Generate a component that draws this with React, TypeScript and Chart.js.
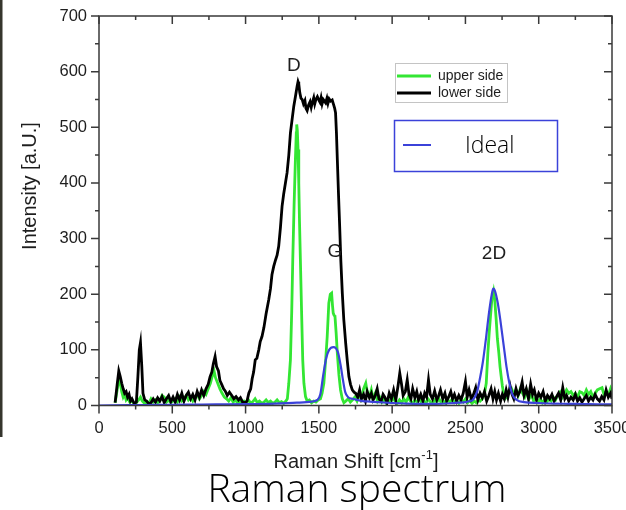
import React, { useEffect, useRef } from 'react';
import { Chart, registerables } from 'chart.js';

Chart.register(...registerables);

// ---- axis ranges / ticks ----
const xMin = 0;
const xMax = 3500;
const xStep = 500;
const xMinorStep = 250;
const yMin = 0;
const yMax = 700;
const yStep = 100;
const yMinorStep = 50;

// ---- series: lower side (black) ----
const lowerShift = [
  110, 125, 135, 145, 155, 165, 175, 185, 195, 205, 215, 225, 240, 255, 265, 275, 283, 292, 300, 312,
  325, 340, 355, 370, 385, 400, 415, 430, 445, 460, 475, 490, 505, 520, 535, 550, 565, 580, 595, 610,
  625, 640, 655, 670, 685, 700, 715, 730, 745, 758, 770, 780, 792, 802, 815, 825, 837, 850, 861, 875,
  890, 906, 920, 935, 952, 965, 980, 998, 1010, 1022, 1035, 1045, 1055, 1066, 1077, 1090, 1100, 1112, 1125, 1140,
  1158, 1170, 1180, 1192, 1205, 1215, 1226, 1238, 1249, 1260, 1272, 1283, 1295, 1306, 1318, 1329, 1340, 1352, 1358, 1363,
  1370, 1378, 1386, 1395, 1405, 1412, 1420, 1430, 1440, 1448, 1455, 1465, 1472, 1480, 1490, 1500, 1508, 1515, 1522, 1530,
  1538, 1546, 1555, 1562, 1570, 1580, 1591, 1600, 1608, 1614, 1620, 1626, 1634, 1642, 1650, 1660, 1670, 1683, 1694, 1705,
  1716, 1728, 1740, 1751, 1765, 1778, 1790, 1805, 1818, 1830, 1845, 1858, 1870, 1885, 1898, 1910, 1925, 1938, 1950, 1965,
  1980, 1995, 2010, 2025, 2040, 2052, 2063, 2075, 2090, 2103, 2115, 2128, 2140, 2155, 2168, 2180, 2195, 2210, 2222, 2235,
  2248, 2260, 2275, 2290, 2305, 2318, 2330, 2345, 2360, 2372, 2385, 2400, 2412, 2425, 2440, 2455, 2470, 2485, 2500, 2512,
  2525, 2540, 2555, 2570, 2585, 2600, 2615, 2630, 2645, 2660, 2675, 2688, 2700, 2712, 2725, 2740, 2752, 2765, 2778, 2790,
  2805, 2818, 2830, 2845, 2858, 2872, 2887, 2900, 2915, 2930, 2945, 2958, 2970, 2985, 3000, 3015, 3030, 3045, 3060, 3075,
  3090, 3105, 3120, 3135, 3150, 3164, 3178, 3190, 3205, 3220, 3235, 3250, 3265, 3280, 3295, 3310, 3325, 3340, 3355, 3370,
  3385, 3400, 3415, 3430, 3445, 3460, 3475, 3490, 3500,
];
const lowerIntensity = [
  5, 40, 62, 52, 40, 30, 22, 25, 15, 20, 8, 12, 4, 6, 50, 100, 113, 70, 22, 10,
  8, 3, 5, 12, 6, 14, 8, 16, 5, 12, 18, 7, 15, 6, 20, 10, 22, 8, 18, 24,
  12, 20, 10, 25, 15, 28, 18, 30, 38, 52, 60, 75, 88, 70, 62, 45, 38, 30, 26, 18,
  24, 18, 12, 16, 10, 14, 6, 5, 8, 22, 30, 48, 60, 82, 85, 100, 115, 124, 140, 165,
  190, 210, 235, 250, 262, 270, 286, 320, 358, 380, 400, 418, 450, 490, 515, 538, 555, 574, 582, 578,
  562, 552, 550, 542, 548, 534, 530, 540, 546, 536, 544, 553, 542, 550, 555, 549, 545, 553, 542, 550,
  547, 544, 552, 543, 551, 547, 549, 541, 534, 526, 490, 442, 380, 322, 260, 202, 155, 112, 80, 52,
  38, 28, 24, 22, 15, 28, 12, 20, 8, 25, 14, 22, 10, 18, 30, 12, 8, 20, 15, 5,
  22, 12, 28, 10, 35, 58, 40, 18, 25, 46, 20, 12, 30, 14, 25, 10, 20, 8, 22, 15,
  46, 20, 12, 26, 10, 18, 28, 12, 22, 8, 15, 25, 12, 20, 8, 18, 10, 22, 43, 15,
  28, 12, 20, 32, 10, 22, 14, 25, 8, 18, 30, 12, 25, 10, 22, 8, 20, 12, 28, 15,
  35, 20, 12, 30, 18, 25, 42, 18, 30, 12, 38, 20, 28, 10, 22, 15, 25, 8, 18, 12,
  20, 8, 15, 22, 10, 32, 12, 18, 8, 15, 10, 20, 8, 14, 6, 12, 18, 8, 15, 10,
  20, 12, 8, 16, 10, 28, 15, 22, 12,
];

// ---- series: upper side (green) ----
const upperShift = [
  110, 125, 135, 145, 155, 165, 175, 185, 195, 210, 225, 240, 255, 270, 283, 295, 310, 325, 340, 355,
  370, 385, 400, 415, 430, 445, 460, 475, 490, 505, 520, 535, 550, 565, 580, 595, 610, 625, 640, 655,
  670, 685, 700, 715, 730, 745, 760, 775, 785, 795, 810, 825, 840, 855, 870, 885, 900, 915, 930, 945,
  960, 975, 990, 1005, 1020, 1035, 1050, 1065, 1080, 1095, 1110, 1125, 1140, 1155, 1170, 1185, 1200, 1215, 1230, 1245,
  1260, 1275, 1285, 1295, 1306, 1315, 1322, 1331, 1340, 1346, 1349, 1353, 1358, 1363, 1368, 1374, 1382, 1390, 1398, 1409,
  1420, 1435, 1450, 1465, 1480, 1495, 1511, 1522, 1534, 1546, 1557, 1568, 1578, 1587, 1593, 1598, 1604, 1610, 1618, 1626,
  1637, 1648, 1660, 1671, 1685, 1700, 1715, 1730, 1745, 1760, 1775, 1790, 1805, 1820, 1832, 1845, 1858, 1870, 1885, 1900,
  1915, 1930, 1945, 1960, 1975, 1990, 2005, 2020, 2035, 2050, 2065, 2080, 2095, 2110, 2125, 2140, 2155, 2170, 2185, 2200,
  2215, 2230, 2245, 2260, 2275, 2290, 2305, 2320, 2335, 2350, 2365, 2380, 2395, 2410, 2425, 2440, 2455, 2470, 2485, 2500,
  2515, 2530, 2545, 2560, 2575, 2590, 2600, 2615, 2630, 2642, 2653, 2662, 2669, 2680, 2692, 2700, 2710, 2718, 2728, 2736,
  2744, 2752, 2760, 2770, 2780, 2800, 2815, 2830, 2845, 2860, 2875, 2890, 2905, 2920, 2935, 2950, 2965, 2980, 2995, 3010,
  3025, 3040, 3055, 3070, 3085, 3100, 3115, 3130, 3145, 3160, 3175, 3190, 3205, 3220, 3235, 3250, 3265, 3280, 3295, 3310,
  3325, 3340, 3355, 3370, 3385, 3400, 3415, 3432, 3445, 3460, 3475, 3490, 3500,
];
const upperIntensity = [
  5, 30, 48, 40, 25, 15, 20, 10, 14, 6, 8, 3, 5, 10, 15, 8, 4, 6, 4, 12,
  6, 10, 5, 8, 18, 15, 6, 10, 5, 8, 12, 6, 15, 8, 12, 18, 10, 15, 8, 14,
  20, 12, 18, 25, 20, 30, 40, 55, 62, 50, 40, 30, 22, 15, 12, 8, 14, 6, 10, 5,
  8, 4, 8, 5, 10, 4, 7, 12, 5, 8, 4, 6, 10, 5, 8, 4, 6, 10, 5, 7,
  4, 8, 12, 40, 82, 170, 262, 360, 442, 490, 505, 495, 460, 400, 330, 262, 170, 82, 40, 16,
  8, 10, 5, 8, 6, 10, 12, 22, 40, 80, 124, 184, 200, 202, 180, 166, 162, 160, 130, 94,
  55, 28, 12, 5, 8, 12, 6, 10, 15, 8, 20, 12, 30, 40, 22, 15, 28, 12, 22, 8,
  15, 6, 12, 4, 10, 6, 14, 8, 4, 10, 5, 12, 6, 15, 8, 4, 10, 6, 12, 5,
  9, 4, 12, 7, 3, 10, 6, 12, 5, 8, 4, 10, 6, 12, 5, 8, 4, 10, 6, 12,
  5, 9, 4, 8, 5, 10, 8, 12, 22, 40, 94, 130, 154, 190, 205, 190, 154, 120, 94, 70,
  52, 35, 22, 12, 15, 25, 30, 20, 28, 18, 30, 22, 15, 25, 12, 20, 8, 14, 6, 12,
  5, 10, 6, 12, 8, 15, 10, 18, 24, 14, 20, 28, 22, 25, 18, 22, 15, 25, 23, 18,
  28, 20, 25, 15, 22, 28, 30, 32, 20, 25, 18, 30, 22,
];

// ---- series: ideal (blue) ----
const idealShift = [
  0, 200, 400, 600, 800, 1000, 1200, 1350, 1450, 1490, 1510, 1530, 1550, 1570, 1600, 1630, 1650, 1665, 1680, 1700,
  1730, 1760, 1800, 1850, 1900, 2000, 2100, 2200, 2300, 2400, 2450, 2500, 2530, 2550, 2580, 2600, 2620, 2640, 2660, 2680,
  2690, 2700, 2720, 2740, 2760, 2780, 2800, 2820, 2850, 2900, 3000, 3100, 3200, 3300, 3400, 3500,
];
const idealIntensity = [
  0, 0.5, 1, 1.5, 2, 2.5, 3.5, 5, 7, 10, 20, 55, 85, 100, 105, 96, 70, 45, 24, 15,
  12, 10, 8, 7, 6, 4.5, 3.5, 3, 3, 4, 5, 6, 8, 10, 25, 50, 80, 120, 165, 200,
  210, 207, 185, 150, 110, 70, 40, 20, 10, 6, 4.5, 3.5, 3, 2.5, 2, 2,
];

// ---- peak annotations (data coordinates) ----
const peakNames = ['D', 'G', '2D'];
const peakShift = [1330, 1610, 2695];
const peakLevel = [611, 276, 272];

const legendUpper = 'upper side';
const legendLower = 'lower side';
const legendIdeal = 'Ideal';

const GREEN = '#33e633';
const BLACK = '#000000';
const BLUE = '#3b42d9';
const AXIS = '#3a3a3a';
const TEXT = '#1e1e1e';

const toPoints = (xs: number[], ys: number[]) => xs.map((x, i) => ({ x, y: ys[i] }));

const framePlugin = {
  id: 'frame',
  beforeDraw(chart: any) {
    const ctx = chart.ctx;
    ctx.save();
    ctx.fillStyle = '#ffffff';
    ctx.fillRect(0, 0, chart.width, chart.height);
    ctx.fillStyle = '#35352d';
    ctx.fillRect(0, 0, 2.5, 437);
    ctx.restore();
  },
  afterDraw(chart: any) {
    const ctx = chart.ctx;
    const { left, right, top, bottom } = chart.chartArea;
    const xs = chart.scales.x;
    const ys = chart.scales.y;
    ctx.save();
    ctx.strokeStyle = AXIS;
    ctx.lineWidth = 1.5;
    ctx.strokeRect(left, top, right - left, bottom - top);
    ctx.beginPath();
    for (let v = xMin; v <= xMax; v += xMinorStep) {
      const px = xs.getPixelForValue(v);
      const len = v % xStep === 0 ? 8 : 4;
      ctx.moveTo(px, bottom);
      ctx.lineTo(px, bottom + len);
      ctx.moveTo(px, top);
      ctx.lineTo(px, top + len);
    }
    for (let v = yMin; v <= yMax; v += yMinorStep) {
      const py = ys.getPixelForValue(v);
      const len = v % yStep === 0 ? 8 : 4;
      ctx.moveTo(left, py);
      ctx.lineTo(left - len, py);
      ctx.moveTo(right, py);
      ctx.lineTo(right - len, py);
    }
    ctx.stroke();

    // axis titles
    ctx.fillStyle = TEXT;
    ctx.textBaseline = 'middle';
    ctx.font = '20px "Liberation Sans", Arial, sans-serif';
    const main = 'Raman Shift [cm';
    const sup = '-1';
    const close = ']';
    const wMain = ctx.measureText(main).width;
    ctx.font = '13px "Liberation Sans", Arial, sans-serif';
    const wSup = ctx.measureText(sup).width;
    ctx.font = '20px "Liberation Sans", Arial, sans-serif';
    const wClose = ctx.measureText(close).width;
    const total = wMain + wSup + wClose;
    let tx = 356 - total / 2;
    const ty = 462;
    ctx.textAlign = 'left';
    ctx.fillText(main, tx, ty);
    tx += wMain;
    ctx.font = '13px "Liberation Sans", Arial, sans-serif';
    ctx.fillText(sup, tx, ty - 7);
    tx += wSup;
    ctx.font = '20px "Liberation Sans", Arial, sans-serif';
    ctx.fillText(close, tx, ty);

    ctx.save();
    ctx.translate(30, 186);
    ctx.rotate(-Math.PI / 2);
    ctx.textAlign = 'center';
    ctx.fillText('Intensity [a.U.]', 0, 0);
    ctx.restore();

    ctx.fillStyle = '#000';
    ctx.textAlign = 'center';
    ctx.font = '300 39px "Open Sans", sans-serif';
    ctx.fillText('Raman spectrum', 357, 491);

    // peak labels
    ctx.fillStyle = TEXT;
    ctx.font = '19px "Liberation Sans", Arial, sans-serif';
    peakNames.forEach((n, i) => {
      ctx.fillText(n, xs.getPixelForValue(peakShift[i]), ys.getPixelForValue(peakLevel[i]));
    });

    // legend 1
    ctx.strokeStyle = '#c4c4c4';
    ctx.lineWidth = 1;
    ctx.strokeRect(395.5, 63.5, 112, 39);
    ctx.lineWidth = 3;
    ctx.strokeStyle = GREEN;
    ctx.beginPath();
    ctx.moveTo(397, 76);
    ctx.lineTo(431, 76);
    ctx.stroke();
    ctx.strokeStyle = BLACK;
    ctx.beginPath();
    ctx.moveTo(397, 93);
    ctx.lineTo(431, 93);
    ctx.stroke();
    ctx.fillStyle = TEXT;
    ctx.textAlign = 'left';
    ctx.font = '14px "Liberation Sans", Arial, sans-serif';
    ctx.fillText(legendUpper, 438, 76);
    ctx.fillText(legendLower, 438, 93);

    // legend 2
    ctx.strokeStyle = BLUE;
    ctx.lineWidth = 1.5;
    ctx.strokeRect(394.5, 120.5, 163, 51);
    ctx.lineWidth = 2;
    ctx.beginPath();
    ctx.moveTo(403, 145);
    ctx.lineTo(431, 145);
    ctx.stroke();
    ctx.fillStyle = '#000';
    ctx.font = '300 23px "Open Sans", sans-serif';
    ctx.fillText(legendIdeal, 465, 146);
    ctx.restore();
  },
};

export default function App() {
  const ref = useRef<HTMLCanvasElement | null>(null);
  useEffect(() => {
    if (!ref.current) return;
    const tickFont = { family: '"Liberation Sans", Arial, sans-serif', size: 16.5 };
    const plain = (v: any) => String(v);
    const chart = new Chart(ref.current, {
      type: 'line',
      data: {
        datasets: [
          {
            label: legendIdeal,
            data: toPoints(idealShift, idealIntensity),
            borderColor: BLUE,
            borderWidth: 2.2,
            pointRadius: 0,
            cubicInterpolationMode: 'monotone',
            fill: false,
            order: 0,
          },
          {
            label: legendLower,
            data: toPoints(lowerShift, lowerIntensity),
            borderColor: BLACK,
            borderWidth: 2.8,
            pointRadius: 0,
            tension: 0,
            fill: false,
            order: 1,
          },
          {
            label: legendUpper,
            data: toPoints(upperShift, upperIntensity),
            borderColor: GREEN,
            borderWidth: 2.8,
            pointRadius: 0,
            tension: 0,
            fill: false,
            order: 2,
          },
        ],
      },
      options: {
        animation: false,
        responsive: false,
        maintainAspectRatio: false,
        layout: { padding: { left: 0, top: 16, right: 14, bottom: 0 } },
        plugins: { legend: { display: false }, tooltip: { enabled: false }, title: { display: false } },
        scales: {
          x: {
            type: 'linear',
            min: xMin,
            max: xMax,
            grid: { display: false, drawTicks: false },
            border: { display: false },
            ticks: { stepSize: xStep, font: tickFont, color: TEXT, padding: 13, maxRotation: 0, autoSkip: false, callback: plain },
            afterFit: (s: any) => {
              s.height = 104.5;
              s.paddingLeft = 0;
              s.paddingRight = 0;
            },
          },
          y: {
            type: 'linear',
            min: yMin,
            max: yMax,
            grid: { display: false, drawTicks: false },
            border: { display: false },
            ticks: { stepSize: yStep, font: tickFont, color: TEXT, padding: 12, autoSkip: false, callback: plain },
            afterFit: (s: any) => {
              s.width = 99;
              s.paddingTop = 0;
              s.paddingBottom = 0;
            },
          },
        },
      },
      plugins: [framePlugin],
    } as any);
    return () => chart.destroy();
  }, []);
  return (
    <div style={{ position: 'absolute', left: 0, top: 0, width: 626, height: 510 }}>
      <canvas ref={ref} width={626} height={510} style={{ display: 'block' }} />
    </div>
  );
}
